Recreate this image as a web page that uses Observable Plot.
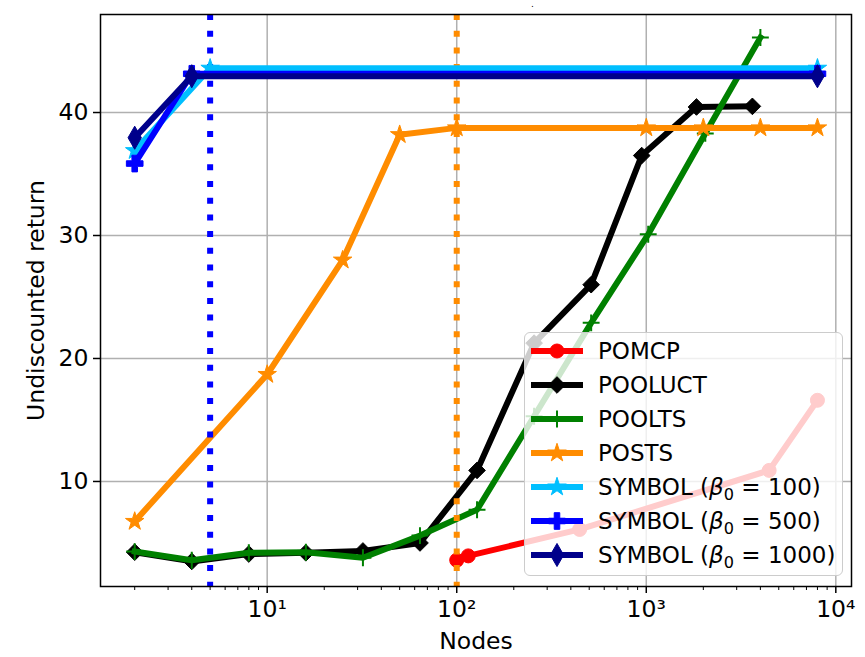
<!DOCTYPE html>
<html>
<head>
<meta charset="utf-8">
<script src="https://cdn.jsdelivr.net/npm/d3@7"></script>
<script src="https://cdn.jsdelivr.net/npm/@observablehq/plot@0.6"></script>
<style>
  body { margin: 0; background: #fff; font-family: "DejaVu Sans", sans-serif; }
  #chart { position: relative; width: 865px; height: 657px; }
  #chart svg { display: block; }
  .title { position: absolute; left: 531px; top: 0px; font-size: 9px; line-height: 9px; color: #000; }
  .legend {
    position: absolute; left: 524px; top: 332px; width: 319px; height: 244px;
    background: rgba(255,255,255,0.8); border: 1px solid #cccccc; border-radius: 6px;
    box-sizing: border-box; padding-top: 1px;
  }
  .legend .row { height: 34px; display: flex; align-items: center; }
  .legend .row svg { margin-left: 5px; flex: none; }
  .legend .row span { margin-left: 14px; font-size: 23px; white-space: nowrap; }
  .legend sub { font-size: 70%; vertical-align: -0.28em; line-height: 0; }
</style>
</head>
<body>
<div id="chart"></div>
<script>
// Undiscounted return against number of search nodes, one series per planner
const pomcpNodes = [100, 115, 445, 4450, 8000];
const pomcpReturn = [3.6, 3.95, 6.1, 10.9, 16.6];

const pooluctNodes = [2, 4, 8, 16, 32, 64, 128, 256, 512, 946, 1840, 3630];
const pooluctReturn = [4.25, 3.5, 4.1, 4.2, 4.35, 5.0, 10.9, 21.25, 26.0, 36.5, 40.45, 40.5];

const pooltsNodes = [2, 4, 8, 16, 32, 64, 128, 256, 512, 1024, 2048, 4000];
const pooltsReturn = [4.3, 3.6, 4.2, 4.25, 3.8, 5.6, 7.7, 15.3, 22.9, 30.1, 38.3, 46.1];

const postsNodes = [2, 10, 25, 50, 100, 1000, 2000, 4000, 8000];
const postsReturn = [6.75, 18.7, 28.0, 38.2, 38.75, 38.75, 38.75, 38.75, 38.75];

const symbol100Nodes = [2, 5, 8000];
const symbol100Return = [36.9, 43.6, 43.6];

const symbol500Nodes = [2, 4, 8000];
const symbol500Return = [35.85, 43.15, 43.15];

const symbol1000Nodes = [2, 4, 8000];
const symbol1000Return = [37.95, 42.95, 42.95];

// Budget markers drawn as vertical dotted lines
const budgetNodes = [5, 100];
const budgetColors = ["#0000ff", "#ff8c00"];

// Axis ticks
const xTickValues = [10, 100, 1000, 10000];
const xTickLabels = ["10\u00b9", "10\u00b2", "10\u00b3", "10\u2074"];
const yTickValues = [10, 20, 30, 40];

const series = [
  {label: "POMCP", nodes: pomcpNodes, values: pomcpReturn, color: "#ff0000", symbol: "circle", r: 7, filled: true},
  {label: "POOLUCT", nodes: pooluctNodes, values: pooluctReturn, color: "#000000", symbol: "diamond2", r: 7.5, filled: true},
  {label: "POOLTS", nodes: pooltsNodes, values: pooltsReturn, color: "#008000", symbol: "plus", r: 5.5, filled: false},
  {label: "POSTS", nodes: postsNodes, values: postsReturn, color: "#ff8c00", symbol: "star", r: 5.8, filled: true},
  {label: "SYMBOL", beta: "100", nodes: symbol100Nodes, values: symbol100Return, color: "#00bfff", symbol: "star", r: 5.8, filled: true},
  {label: "SYMBOL", beta: "500", nodes: symbol500Nodes, values: symbol500Return, color: "#0000ff", symbol: "cross", r: 7, filled: true},
  {label: "SYMBOL", beta: "1000", nodes: symbol1000Nodes, values: symbol1000Return, color: "#00008b", symbol: "diamond", r: 7, filled: true}
];

const toRows = s => s.nodes.map((n, i) => ({nodes: n, value: s.values[i]}));

function seriesMarks(s) {
  const data = toRows(s);
  return [
    Plot.line(data, {x: "nodes", y: "value", stroke: s.color, strokeWidth: 6,
      strokeLinejoin: "round", strokeLinecap: "square"}),
    Plot.dot(data, s.filled
      ? {x: "nodes", y: "value", symbol: () => s.symbol, r: s.r, fill: s.color, stroke: s.color, strokeWidth: 1}
      : {x: "nodes", y: "value", symbol: () => s.symbol, r: s.r, fill: "none", stroke: s.color, strokeWidth: 2})
  ];
}

// minor ticks on the log axis
const minorTicks = [];
for (const decade of [1, 10, 100, 1000]) {
  for (let m = 2; m <= 9; ++m) minorTicks.push(m * decade);
}

const plot = Plot.plot({
  width: 865,
  height: 657,
  marginLeft: 100,
  marginRight: 14,
  marginTop: 14,
  marginBottom: 71,
  style: {fontFamily: "DejaVu Sans", fontSize: "23.5px", color: "#000", background: "#fff", overflow: "visible"},
  x: {type: "log", domain: [1.32, 12100]},
  y: {domain: [1.46, 47.97]},
  marks: [
    Plot.gridX(xTickValues, {stroke: "#b0b0b0", strokeOpacity: 1, strokeWidth: 1.5}),
    Plot.gridY(yTickValues, {stroke: "#b0b0b0", strokeOpacity: 1, strokeWidth: 1.5}),
    ...series.slice(0, 4).flatMap(seriesMarks),
    Plot.ruleX(budgetNodes, {x: d => d, stroke: (d, i) => budgetColors[i], strokeWidth: 6, strokeDasharray: "6,10.7"}),
    ...series.slice(4).flatMap(seriesMarks),
    Plot.frame({stroke: "#000", strokeWidth: 1.5}),
    Plot.axisX(minorTicks, {tickSize: 4, strokeWidth: 1, tickFormat: () => "", label: null}),
    Plot.axisX(xTickValues, {tickSize: 7, strokeWidth: 1.5, tickPadding: 7,
      tickFormat: d => xTickLabels[xTickValues.indexOf(d)],
      label: "Nodes", labelAnchor: "center", labelOffset: 62, labelArrow: "none"}),
    Plot.axisY(yTickValues, {tickSize: 7, strokeWidth: 1.5, tickPadding: 5,
      label: "Undiscounted return", labelAnchor: "center", labelOffset: 73, labelArrow: "none"})
  ]
});
plot.setAttribute("color", "#000");
plot.querySelectorAll("[aria-label=dot] path").forEach(p => p.setAttribute("stroke-linejoin", "miter"));

const chart = document.getElementById("chart");
chart.appendChild(plot);

const title = document.createElement("div");
title.className = "title";
title.textContent = ".";
chart.appendChild(title);

// Legend
const legend = document.createElement("div");
legend.className = "legend";
const symbolTypes = {circle: d3.symbolCircle, diamond2: d3.symbolDiamond2, plus: d3.symbolPlus,
  star: d3.symbolStar, cross: d3.symbolCross, diamond: d3.symbolDiamond};
for (const s of series) {
  const row = document.createElement("div");
  row.className = "row";
  const sw = d3.create("svg").attr("width", 54).attr("height", 34);
  sw.append("line").attr("x1", 1).attr("x2", 53).attr("y1", 17).attr("y2", 17)
    .attr("stroke", s.color).attr("stroke-width", 6);
  sw.append("path")
    .attr("transform", "translate(27,17)")
    .attr("d", d3.symbol(symbolTypes[s.symbol], s.r * s.r * Math.PI)())
    .attr("fill", s.filled ? s.color : "none")
    .attr("stroke", s.color)
    .attr("stroke-width", s.filled ? 1 : 2);
  row.appendChild(sw.node());
  const text = document.createElement("span");
  if (s.beta) {
    text.innerHTML = `${s.label} (<i>β</i><sub>0</sub> = ${s.beta})`;
  } else {
    text.textContent = s.label;
  }
  row.appendChild(text);
  legend.appendChild(row);
}
chart.appendChild(legend);
</script>
</body>
</html>
